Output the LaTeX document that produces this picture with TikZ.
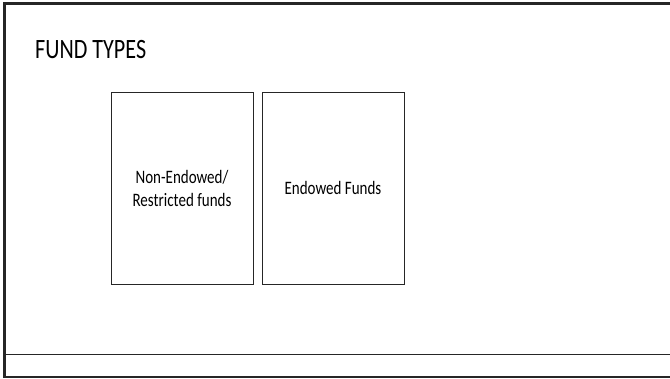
\documentclass[tikz,border=0pt]{standalone}
\usepackage{fontspec}
\setmainfont[FakeStretch=0.79]{Carlito}
\usepackage{tikz}

\begin{document}
\begin{tikzpicture}[
  x=1pt, y=-1pt,
  fundbox/.style={draw=black!85, line width=0.9pt, align=center,
                  minimum width=142pt, minimum height=192pt,
                  inner sep=0pt, font=\fontsize{19}{23}\selectfont}
]
\useasboundingbox (0,0) rectangle (670,378);
% slide frame
\draw[black!85, line width=2.6pt] (671,3.3) -- (4.3,3.3) -- (4.3,376.8) -- (671,376.8);
\draw[black!85, line width=1pt] (4.3,354.3) -- (671,354.3);
\node[anchor=base west, inner sep=0pt, font=\fontsize{28}{32}\selectfont] (title) at (35,58) {FUND TYPES};
\node[fundbox] (nonend) at (182,188) {Non-Endowed/\\Restricted funds};
\node[fundbox] (endow)  at (333,188) {Endowed Funds};
\end{tikzpicture}
\end{document}
